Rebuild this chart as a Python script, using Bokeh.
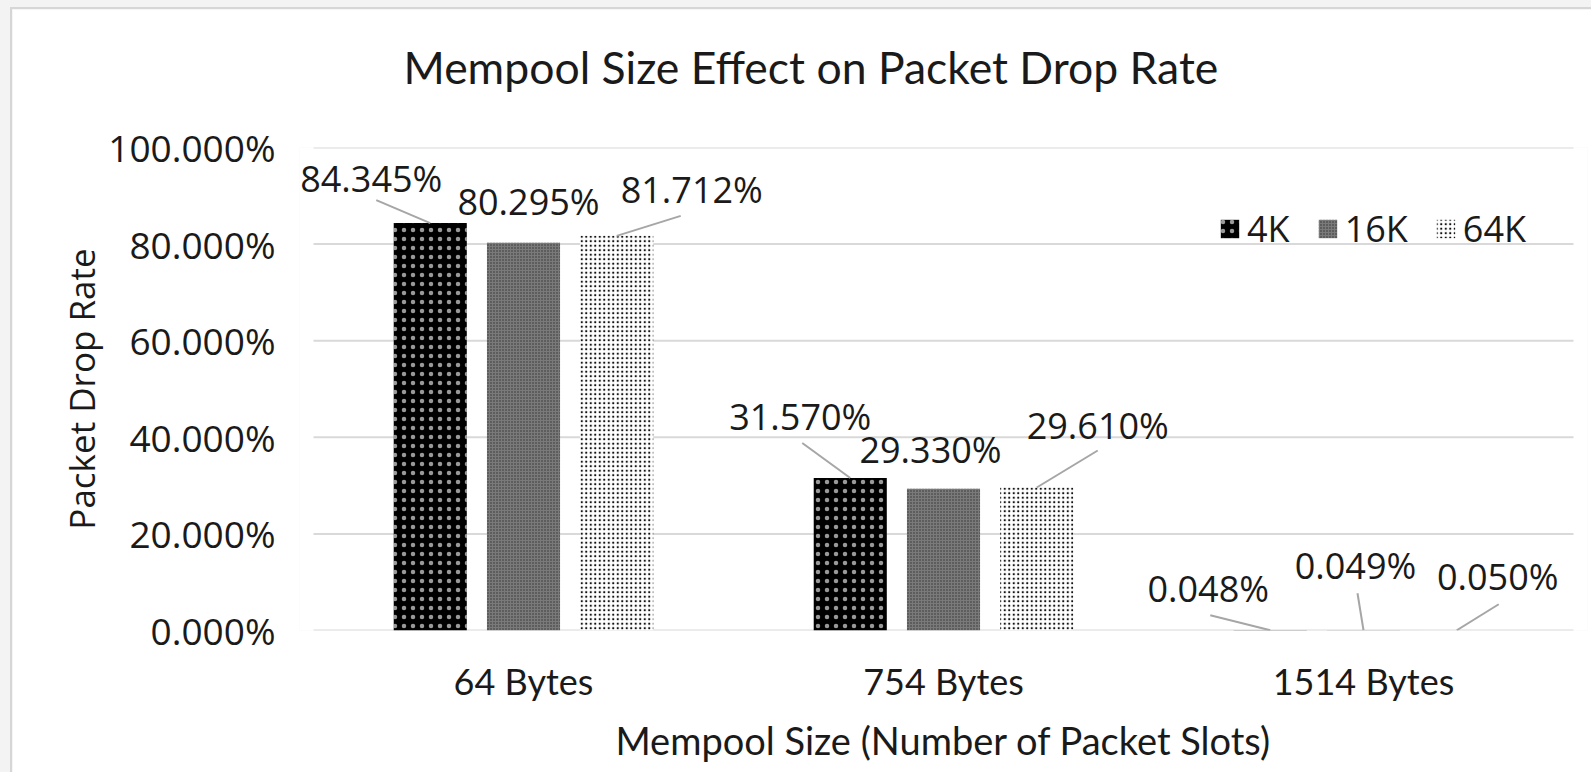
from bokeh.plotting import figure
from bokeh.models import (ColumnDataSource, Range1d, FixedTicker, NumeralTickFormatter,
                          Legend, LegendItem, Title)
from bokeh.layouts import column
from bokeh.embed import file_html
from bokeh.resources import INLINE
from bokeh.core.properties import value

# ---------------- data ----------------
categories = ["64 Bytes", "754 Bytes", "1514 Bytes"]
series = ["4K", "16K", "64K"]
rate_4k = [0.84345, 0.31570, 0.00048]
rate_16k = [0.80295, 0.29330, 0.00049]
rate_64k = [0.81712, 0.29610, 0.00050]
label_4k = ["84.345%", "31.570%", "0.048%"]
label_16k = ["80.295%", "29.330%", "0.049%"]
label_64k = ["81.712%", "29.610%", "0.050%"]
y_ticks = [0.0, 0.2, 0.4, 0.6, 0.8, 1.0]

# ---------------- layout / style constants ----------------
OX, OY = 12, 9                 # chart offset inside page (grey surround + border)
W, H = 1593 - OX, 774 - OY
GRID_L, GRID_R, FRAME_T, FRAME_B = 313, 1573, 147, 630   # page pixel coords
PAD = 14                       # frame extends a little beyond the grid lines
FRAME_L, FRAME_R = GRID_L - PAD, GRID_R + PAD
PX_X = (GRID_R - GRID_L) / 3.0
PX_Y = (FRAME_B - FRAME_T) / 1.0
BAR_W = 0.174
DODGE = [-0.222, 0.0, 0.222]
FONT = "Open Sans"
FONT2 = "Lato"
TXT = "#1a1a1a"
GRID = "#d9d9d9"

lab_dx = [[-59, -50, -62], [5, -13, -8], [75, 61, 41]]
lab_dy = [[-45, -62, -42], [-41, -39, -65], [-46, -62, -54]]
lead = [[(-54, -23), (-48, -35), (-60, -15)],
        [None, None, (-6, -37)],
        [(64, -20), (61, -37), (42, -26)]]

p = figure(width=W, height=H, output_backend="svg", toolbar_location=None,
           x_range=Range1d(-PAD / PX_X, 3 + PAD / PX_X), y_range=Range1d(0, 1),
           min_border_left=FRAME_L - OX, min_border_right=W - (FRAME_R - OX),
           min_border_top=FRAME_T - OY, min_border_bottom=H - (FRAME_B - OY),
           background_fill_color="white", border_fill_color="white")
p.outline_line_color = None

# empty spacer between frame and title (pushes the title upwards)
p.add_layout(Title(text=" ", text_font_size="2px", standoff=46), "above")

p.title.text = "Mempool Size Effect on Packet Drop Rate"
p.title.text_font = FONT2
p.title.text_font_size = "44.5px"
p.title.text_font_style = "normal"
p.title.text_color = TXT
p.title.align = "left"
p.title.offset = 403 - FRAME_L
p.title.standoff = 10

# axes
p.xaxis.ticker = FixedTicker(ticks=[i + 0.5 for i in range(len(categories))])
p.xaxis.major_label_overrides = {i + 0.5: c for i, c in enumerate(categories)}
p.yaxis.ticker = FixedTicker(ticks=y_ticks)
p.yaxis.formatter = NumeralTickFormatter(format="0.000%")
for ax in (p.xaxis[0], p.yaxis[0]):
    ax.axis_line_color = None
    ax.major_tick_line_color = None
    ax.minor_tick_line_color = None
    ax.major_label_text_color = TXT
    ax.axis_label_text_color = TXT
    ax.axis_label_text_font_style = "normal"
p.yaxis.major_label_text_font = FONT
p.yaxis.major_label_text_font_size = "37px"
p.yaxis.major_label_standoff = 36 - PAD - 4
p.yaxis.axis_label = "Packet Drop Rate"
p.yaxis.axis_label_text_font = FONT
p.yaxis.axis_label_text_font_size = "35px"
p.yaxis.axis_label_standoff = 0
p.xaxis.major_label_text_font = FONT2
p.xaxis.major_label_text_font_size = "36px"
p.xaxis.major_label_standoff = 22
p.xaxis.axis_label = "Mempool Size (Number of Packet Slots)"
p.xaxis.axis_label_text_font = FONT2
p.xaxis.axis_label_text_font_size = "38px"
p.xaxis.axis_label_standoff = 11
p.xgrid.grid_line_color = None
p.ygrid.grid_line_color = None

# horizontal grid lines (drawn only over the category area)
p.segment(x0=[0] * len(y_ticks), x1=[3] * len(y_ticks), y0=y_ticks, y1=y_ticks,
          line_color=GRID, line_width=2)

styles = [
    dict(fill_color="black", hatch_pattern="dot", hatch_color="white", hatch_scale=9,
         hatch_weight=0.5, hatch_alpha=0.6),
    dict(fill_color="#7a7a7a", hatch_pattern="dot", hatch_color="#303030", hatch_scale=3,
         hatch_weight=0.5),
    dict(fill_color="white", hatch_pattern="dot", hatch_color="#111111", hatch_scale=4.5,
         hatch_weight=1.0),
]
all_rates = [rate_4k, rate_16k, rate_64k]
all_labels = [label_4k, label_16k, label_64k]
items = []
for s, (name, rates, labs, st) in enumerate(zip(series, all_rates, all_labels, styles)):
    xs = [i + 0.5 + DODGE[s] for i in range(len(categories))]
    src = ColumnDataSource(dict(x=xs, top=rates, lab=labs, dx=lab_dx[s], dy=lab_dy[s]))
    r = p.vbar(x="x", top="top", width=BAR_W, source=src, line_color=None, **st)
    items.append(LegendItem(label=name, renderers=[r]))
    x0, y0, x1, y1 = [], [], [], []
    for i, ld in enumerate(lead[s]):
        if ld is None:
            continue
        x0.append(xs[i] + ld[0] / PX_X)
        y0.append(rates[i] - ld[1] / PX_Y)
        x1.append(xs[i])
        y1.append(rates[i])
    if x0:
        p.segment(x0=x0, y0=y0, x1=x1, y1=y1, line_color="#a6a6a6", line_width=2)
    p.text(x="x", y="top", text="lab", x_offset="dx", y_offset="dy", source=src,
           text_font=value(FONT), text_font_size="36px", text_color=TXT,
           text_align="center", text_baseline="middle")

legend = Legend(items=items, orientation="horizontal", location=(1218 - FRAME_L, 377),
                label_text_font=FONT, label_text_font_size="36px", label_text_color=TXT,
                glyph_width=23, glyph_height=23, label_standoff=6, spacing=26,
                padding=0, margin=0, border_line_color=None, background_fill_alpha=0)
p.add_layout(legend)

root = column(p, styles={"background-color": "#f3f3f3", "padding-left": f"{OX-2}px",
                         "padding-top": f"{OY-2}px"})
p.styles = {"border-left": "2px solid #d6d6d6", "border-top": "2px solid #d6d6d6"}

open("out.html", "w").write(file_html(root, INLINE))
